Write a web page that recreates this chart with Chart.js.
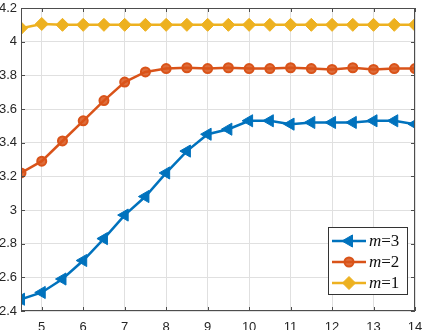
<!DOCTYPE html>
<html>
<head>
<meta charset="utf-8">
<script src="https://cdn.jsdelivr.net/npm/chart.js@4"></script>
<style>
  html, body { margin: 0; padding: 0; background: #fff; }
  #wrap { width: 423px; height: 330px; }
</style>
</head>
<body>
<div id="wrap"><canvas id="chart" width="423" height="330"></canvas></div>
<script>
const xValues = [4.5, 5, 5.5, 6, 6.5, 7, 7.5, 8, 8.5, 9, 9.5, 10, 10.5, 11, 11.5, 12, 12.5, 13, 13.5, 14];
const m3 = [2.47, 2.51, 2.59, 2.70, 2.83, 2.97, 3.08, 3.22, 3.35, 3.45, 3.48, 3.53, 3.53, 3.51, 3.52, 3.52, 3.52, 3.53, 3.53, 3.51];
const m2 = [3.22, 3.29, 3.41, 3.53, 3.65, 3.76, 3.82, 3.84, 3.845, 3.84, 3.845, 3.84, 3.84, 3.845, 3.84, 3.835, 3.845, 3.835, 3.84, 3.84];
const m1 = [4.08, 4.105, 4.10, 4.10, 4.10, 4.10, 4.10, 4.10, 4.10, 4.10, 4.10, 4.10, 4.10, 4.10, 4.10, 4.10, 4.10, 4.10, 4.10, 4.10];
const seriesNames = ["3", "2", "1"];
const xTicks = [5, 6, 7, 8, 9, 10, 11, 12, 13, 14];
const yTicks = [2.4, 2.6, 2.8, 3, 3.2, 3.4, 3.6, 3.8, 4, 4.2];

const toPoints = (ys) => ys.map((y, i) => ({ x: xValues[i], y: y }));

const axisColor = "#4d4d4d";

// box, inward ticks and the in-plot legend (MATLAB style)
const matlabBox = {
  id: "matlabBox",
  afterDatasetsDraw(chart) {
    const { ctx, chartArea: a, scales } = chart;
    ctx.save();
    ctx.strokeStyle = axisColor;
    ctx.lineWidth = 1;
    ctx.strokeRect(a.left + 0.5, a.top + 0.5, a.right - a.left - 1, a.bottom - a.top - 1);
    const t = 4;
    ctx.beginPath();
    xTicks.forEach((v) => {
      const px = Math.round(scales.x.getPixelForValue(v)) + 0.5;
      ctx.moveTo(px, a.bottom); ctx.lineTo(px, a.bottom - t);
      ctx.moveTo(px, a.top); ctx.lineTo(px, a.top + t);
    });
    yTicks.forEach((v) => {
      const py = Math.round(scales.y.getPixelForValue(v)) + 0.5;
      ctx.moveTo(a.left, py); ctx.lineTo(a.left + t, py);
      ctx.moveTo(a.right, py); ctx.lineTo(a.right - t, py);
    });
    ctx.stroke();

    // legend
    const bx = 328, by = 227, bw = 79, bh = 67;
    ctx.fillStyle = "#fff";
    ctx.fillRect(bx, by, bw, bh);
    ctx.strokeStyle = "#333";
    ctx.strokeRect(bx + 0.5, by + 0.5, bw, bh);
    chart.data.datasets.forEach((ds, i) => {
      const cy = 241 + i * 21;
      ctx.strokeStyle = ds.borderColor;
      ctx.lineWidth = 2.5;
      ctx.beginPath();
      ctx.moveTo(332, cy); ctx.lineTo(366, cy);
      ctx.stroke();
      ctx.fillStyle = ds.pointBackgroundColor;
      ctx.strokeStyle = ds.pointBorderColor;
      ctx.lineWidth = ds.pointBorderWidth;
      Chart.helpers.drawPoint(ctx, {
        pointStyle: ds.pointStyle,
        rotation: ds.pointRotation || 0,
        radius: ds.pointRadius,
        borderWidth: ds.pointBorderWidth
      }, 349, cy);
      ctx.fillStyle = "#111";
      ctx.textBaseline = "middle";
      ctx.textAlign = "left";
      ctx.font = "italic 17px 'Liberation Serif', 'DejaVu Serif', serif";
      ctx.fillText("m", 369, cy + 1);
      const w = ctx.measureText("m").width;
      ctx.font = "17px 'Liberation Serif', 'DejaVu Serif', serif";
      ctx.fillText("=" + seriesNames[i], 369 + w, cy + 1);
    });
    ctx.restore();
  }
};

const ctx = document.getElementById("chart").getContext("2d");

new Chart(ctx, {
  type: "line",
  data: {
    datasets: [
      {
        label: "m=" + seriesNames[0],
        data: toPoints(m3),
        borderColor: "#0072BD",
        backgroundColor: "#0072BD",
        pointBackgroundColor: "#0072BD",
        pointBorderColor: "#0072BD",
        pointStyle: "triangle",
        pointRotation: -90,
        pointRadius: 7,
        pointBorderWidth: 1,
        borderWidth: 2.5,
      },
      {
        label: "m=" + seriesNames[1],
        data: toPoints(m2),
        borderColor: "#D95319",
        backgroundColor: "#D95319",
        pointBackgroundColor: "rgba(217,83,25,0.85)",
        pointBorderColor: "#D95319",
        pointStyle: "circle",
        pointRadius: 4.5,
        pointBorderWidth: 2,
        borderWidth: 2.5,
      },
      {
        label: "m=" + seriesNames[2],
        data: toPoints(m1),
        borderColor: "#EDB120",
        backgroundColor: "#EDB120",
        pointBackgroundColor: "#EDB120",
        pointBorderColor: "#EDB120",
        pointStyle: "rectRot",
        pointRadius: 6.5,
        pointBorderWidth: 1,
        borderWidth: 2.5,
      },
    ],
  },
  options: {
    responsive: false,
    animation: false,
    layout: { padding: { top: 7, right: 6, left: 0, bottom: 0 } },
    plugins: {
      legend: { display: false },
      tooltip: { enabled: false },
    },
    elements: { line: { tension: 0 } },
    scales: {
      x: {
        type: "linear",
        min: 4.5,
        max: 14,
        afterBuildTicks: (axis) => { axis.ticks = xTicks.map((v) => ({ value: v })); },
        afterFit: (axis) => {
          axis.height = 19;
          axis.paddingLeft = 0;
          axis.paddingRight = 0;
        },
        grid: { color: "#e0e0e0", drawTicks: false, lineWidth: 1 },
        border: { display: false },
        ticks: {
          color: "#262626",
          font: { family: "'Liberation Sans', Arial, sans-serif", size: 13 },
          padding: 9,
          maxRotation: 0,
          callback: (v) => v,
        },
      },
      y: {
        min: 2.4,
        max: 4.2,
        afterBuildTicks: (axis) => { axis.ticks = yTicks.map((v) => ({ value: v })); },
        afterFit: (axis) => {
          axis.width = 21;
          axis.paddingTop = 0;
          axis.paddingBottom = 0;
        },
        grid: { color: "#e0e0e0", drawTicks: false, lineWidth: 1 },
        border: { display: false },
        ticks: {
          color: "#262626",
          font: { family: "'Liberation Sans', Arial, sans-serif", size: 13 },
          padding: 4,
          callback: (v) => String(Math.round(v * 10) / 10),
        },
      },
    },
  },
  plugins: [matlabBox],
});
</script>
</body>
</html>
